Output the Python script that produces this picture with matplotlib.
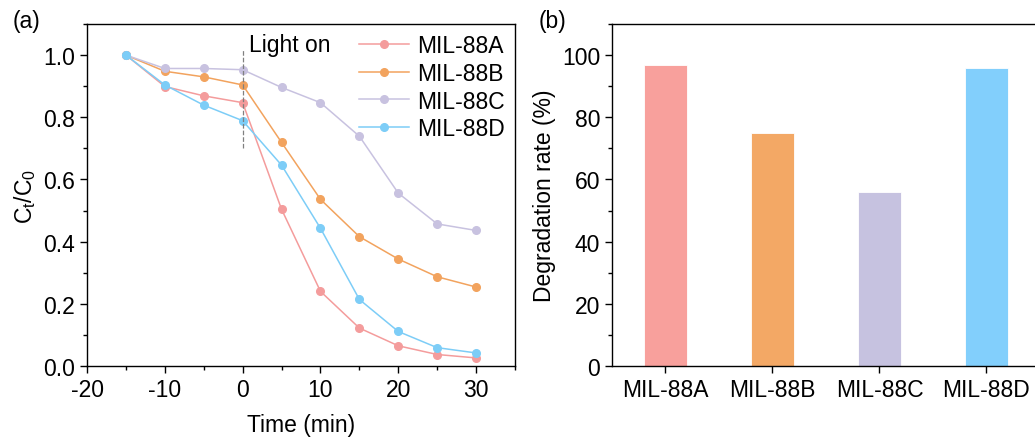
import numpy as np
import matplotlib
matplotlib.use("Agg")
import matplotlib.pyplot as plt
from matplotlib.ticker import MultipleLocator

plt.rcParams['font.family'] = ['Liberation Sans', 'DejaVu Sans']
plt.rcParams['font.size'] = 16.5
plt.rcParams['axes.unicode_minus'] = False
plt.rcParams['mathtext.default'] = 'regular'

#Data
time = [-15, -10, -5, 0, 5, 10, 15, 20, 25, 30]
names = ["MIL-88A", "MIL-88B", "MIL-88C", "MIL-88D"]
c_a = [1.0, 0.899, 0.869, 0.847, 0.504, 0.240, 0.122, 0.065, 0.037, 0.026]
c_b = [1.0, 0.948, 0.930, 0.904, 0.719, 0.536, 0.416, 0.344, 0.287, 0.254]
c_c = [1.0, 0.957, 0.957, 0.953, 0.896, 0.847, 0.739, 0.556, 0.457, 0.436]
c_d = [1.0, 0.904, 0.839, 0.789, 0.646, 0.443, 0.214, 0.111, 0.059, 0.042]
rates = [96.8, 74.8, 55.9, 95.9]

line_cols = ["#F49C9C", "#F2A35E", "#C8C2E0", "#7DCDF7"]
bar_cols = ["#F8A09C", "#F3A865", "#C6C2E0", "#82CFFC"]

fig = plt.figure(figsize=(10.35, 4.39), dpi=100)

#Panel (a): Ct/C0 curves
ax1 = fig.add_axes([0.0841, 0.164, 0.4135, 0.779])
for y, name, col in zip([c_a, c_b, c_c, c_d], names, line_cols):
    ax1.plot(time, y, '-o', color=col, lw=1.1, ms=5.5, label=name)
ax1.plot([0, 0], [0.70, 1.02], '--', color='gray', lw=0.9)
ax1.text(0.8, 1.035, "Light on", va='center')
ax1.set_xlim(-20, 35)
ax1.set_ylim(0, 1.1)
ax1.set_xticks([-20, -10, 0, 10, 20, 30])
ax1.set_yticks([0.0, 0.2, 0.4, 0.6, 0.8, 1.0])
ax1.xaxis.set_minor_locator(MultipleLocator(5))
ax1.yaxis.set_minor_locator(MultipleLocator(0.1))
ax1.set_xlabel("Time (min)", labelpad=9)
ax1.set_ylabel("C$_t$/C$_0$", labelpad=4)
ax1.legend(loc='upper right', frameon=False, handlelength=2.2, handletextpad=0.35,
           labelspacing=0.2, borderaxespad=0.05, bbox_to_anchor=(1.0, 1.0))
fig.text(0.012, 0.95, "(a)", va='center')

#Panel (b): degradation rate bars
ax2 = fig.add_axes([0.5913, 0.164, 0.4135, 0.779])
x = np.arange(len(names))
ax2.bar(x, rates, width=0.4, color=bar_cols, edgecolor='white', linewidth=0.6)
ax2.set_xlim(-0.5, 3.5)
ax2.set_ylim(0, 110)
ax2.set_xticks(x)
ax2.set_xticklabels(names)
ax2.set_yticks([0, 20, 40, 60, 80, 100])
ax2.yaxis.set_minor_locator(MultipleLocator(10))
ax2.set_ylabel("Degradation rate (%)")
fig.text(0.52, 0.95, "(b)", va='center')

for ax in (ax1, ax2):
    ax.tick_params(which='major', direction='out', length=5, width=1, top=False, right=False)
    ax.tick_params(which='minor', direction='out', length=3, width=1, top=False, right=False)
    for s in ax.spines.values():
        s.set_linewidth(1)
ax2.tick_params(axis='x', which='minor', bottom=False)

fig.savefig("out.png", dpi=100)
